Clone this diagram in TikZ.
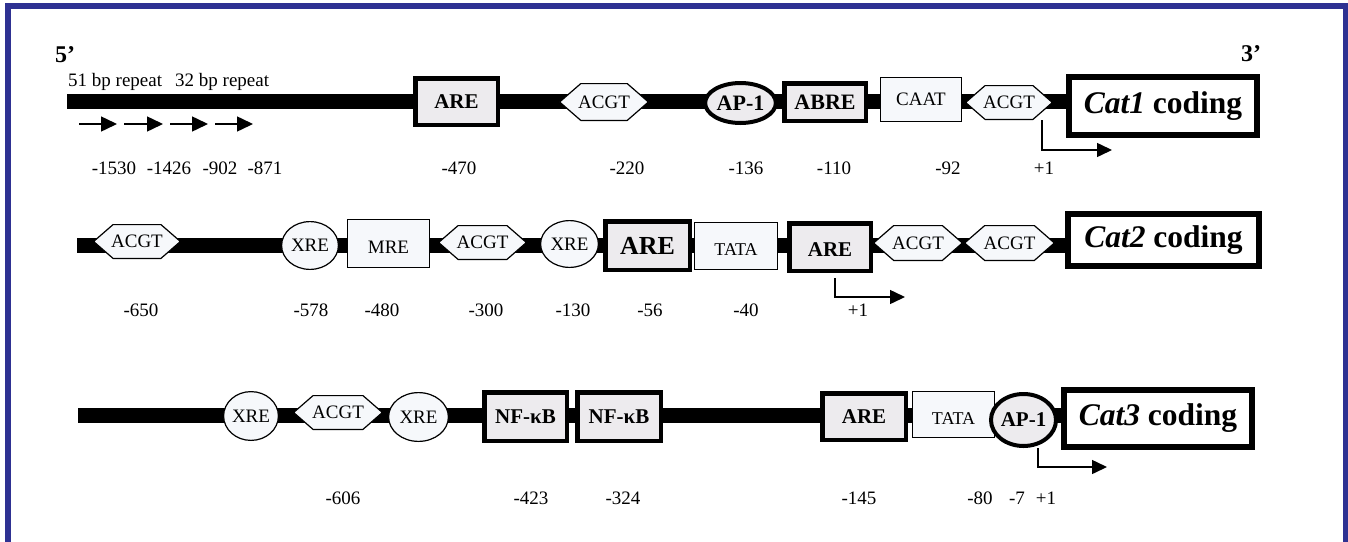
\documentclass[tikz,border=0pt]{standalone}
\usepackage{fontspec}
\setmainfont{Liberation Serif}
\usetikzlibrary{arrows.meta,shapes.geometric,shapes.symbols,backgrounds}
\definecolor{frameblue}{RGB}{46,49,146}
\definecolor{thickfill}{RGB}{237,235,238}
\definecolor{thinfill}{RGB}{246,248,251}
\newcommand{\hxt}[1]{\makebox[40pt][c]{#1}}
\newcommand{\lowr}[2]{\raisebox{-#1}[\height][\depth]{#2}}
\tikzset{
  dnabar/.style={line width=15pt, black},
  thickbox/.style={draw, line width=4.5pt, fill=thickfill, inner sep=0pt, font=\bfseries\fontsize{21}{21}\selectfont},
  thinbox/.style={draw, line width=1.2pt, fill=thinfill, inner sep=0pt, font=\fontsize{19}{19}\selectfont},
  hexa/.style={thinbox, shape=signal, signal to=east and west, signal pointer angle=82},
  thinell/.style={thinbox, ellipse},
  thickell/.style={thickbox, line width=4pt, ellipse},
  coding/.style={draw, line width=6pt, fill=white, inner sep=0pt, font=\bfseries\fontsize{31.5}{31.5}\selectfont},
  posl/.style={font=\fontsize{19}{19}\selectfont, inner sep=0pt},
  startarrow/.style={line width=1.5pt, -{Triangle[length=15pt,width=14pt]}},
  reparrow/.style={line width=1.5pt, -{Triangle[length=16pt,width=15pt]}},
  sz/.style 2 args={minimum width=#1pt, minimum height=#2pt},
}
\begin{document}
\begin{tikzpicture}[x=1pt,y=-1pt]
\useasboundingbox (0,0) rectangle (1348,541);
\draw[frameblue, line width=5.5pt] (8,560) -- (8,6) -- (1346,6) -- (1346,560);

% ---------- Row 1 ----------
\node[font=\bfseries\fontsize{24}{24}\selectfont, inner sep=0pt] (five) at (65,55) {5’};
\node[font=\bfseries\fontsize{24}{24}\selectfont, inner sep=0pt] (three) at (1251,54) {3’};
\node[font=\fontsize{19}{19}\selectfont, inner sep=0pt, anchor=base west] (rep51) at (68,86) {51 bp repeat};
\node[font=\fontsize{19}{19}\selectfont, inner sep=0pt, anchor=base west] (rep32) at (175,86) {32 bp repeat};

\coordinate (r1s) at (67,101.5);
\node[thickbox, sz={82.5}{46.5}] (are1) at (456.5,101.5) {ARE};
\node[hexa, sz={88.8}{36.8}] (acgt1a) at (604,102) {\hxt{ACGT}};
\node[thickell, sz={59}{40}, font=\bfseries\fontsize{22}{22}\selectfont] (ap1a) at (740.5,103) {\makebox[50pt]{AP-1}};
\node[thickbox, sz={81.5}{37.5}, font=\bfseries\fontsize{22}{22}\selectfont] (abre) at (825,102) {ABRE};
\node[thinbox, sz={80.8}{43.8}] (caat) at (921,99.5) {CAAT};
\node[hexa, sz={86.8}{33.8}] (acgt1b) at (1009,102.5) {\hxt{ACGT}};
\node[coding, sz={188}{58}] (cat1) at (1163,106) {\textit{Cat1} coding};
\begin{scope}[on background layer]
  \draw[dnabar] (r1s) -- (r1s -| cat1.west);
\end{scope}

\coordinate (ra1) at (79,124);  \coordinate (rb1) at (117,124);
\coordinate (ra2) at (124,124); \coordinate (rb2) at (163,124);
\coordinate (ra3) at (170,124); \coordinate (rb3) at (208,124);
\coordinate (ra4) at (215,124); \coordinate (rb4) at (253,124);
\draw[reparrow] (ra1) -- (rb1);
\draw[reparrow] (ra2) -- (rb2);
\draw[reparrow] (ra3) -- (rb3);
\draw[reparrow] (ra4) -- (rb4);

\coordinate (s1) at (1042,120);
\coordinate (e1) at (1112,150);
\draw[startarrow] (s1) |- (e1);

\node[posl] (p1a) at (114,168) {-1530};
\node[posl] (p1b) at (169,168) {-1426};
\node[posl] (p1c) at (220,168) {-902};
\node[posl] (p1d) at (265,168) {-871};
\node[posl] (p1e) at (459,168) {-470};
\node[posl] (p1f) at (627,168) {-220};
\node[posl] (p1g) at (746,168) {-136};
\node[posl] (p1h) at (834,168) {-110};
\node[posl] (p1i) at (948,168) {-92};
\node[posl] (p1j) at (1044,168) {+1};

% ---------- Row 2 ----------
\coordinate (r2s) at (77,245);
\node[hexa, sz={86.8}{33.8}] (acgt2a) at (137,241.5) {\hxt{ACGT}};
\node[thinell, sz={56.8}{47.8}] (xre2a) at (310,245.5) {XRE};
\node[thinbox, sz={81.8}{47.8}] (mre) at (388.5,243.5) {\lowr{4pt}{MRE}};
\node[hexa, sz={87.8}{33.8}] (acgt2b) at (482.5,242.5) {\hxt{ACGT}};
\node[thinell, sz={57.8}{46.8}] (xre2b) at (569.5,244) {XRE};
\node[thickbox, sz={84.5}{48.5}, font=\bfseries\fontsize{26}{26}\selectfont] (are2a) at (647.5,245.5) {ARE};
\node[thinbox, sz={82.8}{46.8}, font=\fontsize{18}{18}\selectfont] (tata2) at (736,246) {\lowr{4pt}{TATA}};
\node[thickbox, sz={81.5}{47.5}] (are2b) at (830,247) {\lowr{3pt}{ARE}};
\node[hexa, sz={88.8}{34.8}] (acgt2c) at (918,243) {\hxt{ACGT}};
\node[hexa, sz={89.8}{34.8}] (acgt2d) at (1009.5,243) {\hxt{ACGT}};
\node[coding, sz={191}{52}] (cat2) at (1163.5,240) {\textit{Cat2} coding};
\begin{scope}[on background layer]
  \draw[dnabar] (r2s) -- (r2s -| cat2.west);
\end{scope}

\coordinate (s2) at (835,278);
\coordinate (e2) at (905,297);
\draw[startarrow] (s2) |- (e2);

\node[posl] (p2a) at (141,310) {-650};
\node[posl] (p2b) at (311,310) {-578};
\node[posl] (p2c) at (382,310) {-480};
\node[posl] (p2d) at (486,310) {-300};
\node[posl] (p2e) at (573,310) {-130};
\node[posl] (p2f) at (650,310) {-56};
\node[posl] (p2g) at (746,310) {-40};
\node[posl] (p2h) at (858,310) {+1};

% ---------- Row 3 ----------
\coordinate (r3s) at (78,415);
\node[thinell, sz={54.8}{48.8}] (xre3a) at (251,416) {XRE};
\node[hexa, sz={88.8}{33.8}] (acgt3) at (338,412.5) {\hxt{ACGT}};
\node[thinell, sz={59.8}{48.8}] (xre3b) at (418.5,417) {XRE};
\node[thickbox, sz={82.5}{48.5}] (nfkb1) at (525.5,416.5) {NF-κB};
\node[thickbox, sz={83.5}{48.5}] (nfkb2) at (619,416.5) {NF-κB};
\node[thickbox, sz={83.5}{46.5}] (are3) at (864,416.5) {ARE};
\node[thinbox, sz={81.8}{45.8}, font=\fontsize{18}{18}\selectfont] (tata3) at (953.5,414.5) {\lowr{4pt}{TATA}};
\node[thickell, sz={53}{52}] (ap1c) at (1023.5,420) {\makebox[46pt]{AP-1}};
\node[coding, sz={188}{57}] (cat3) at (1158,418.5) {\textit{Cat3} coding};
\begin{scope}[on background layer]
  \draw[dnabar] (r3s) -- (r3s -| cat3.west);
\end{scope}

\coordinate (s3) at (1038,448);
\coordinate (e3) at (1107,467);
\draw[startarrow] (s3) |- (e3);

\node[posl] (p3a) at (343,498) {-606};
\node[posl] (p3b) at (531,498) {-423};
\node[posl] (p3c) at (623,498) {-324};
\node[posl] (p3d) at (859,498) {-145};
\node[posl] (p3e) at (980,498) {-80};
\node[posl] (p3f) at (1017,498) {-7};
\node[posl] (p3g) at (1046,498) {+1};
\end{tikzpicture}
\end{document}
